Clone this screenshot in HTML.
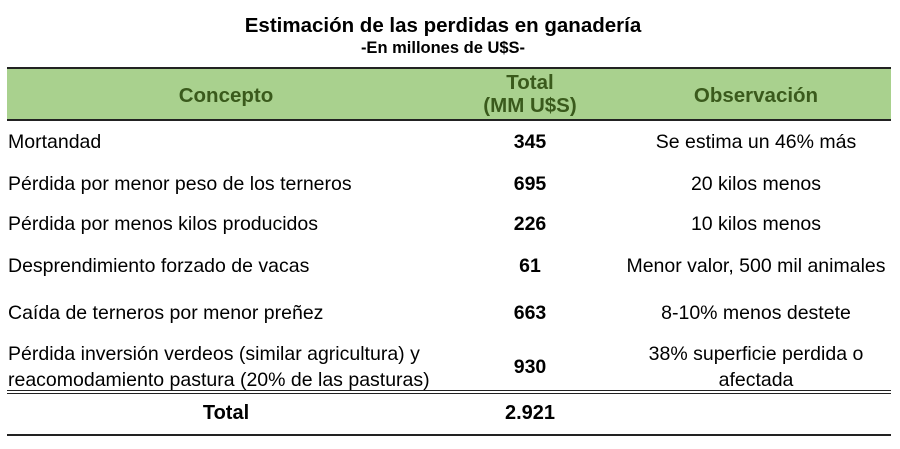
<!DOCTYPE html>
<html><head><meta charset="utf-8"><style>
html,body{margin:0;padding:0;background:#fff;}
body{width:900px;height:449px;position:relative;overflow:hidden;font-family:"Liberation Sans",sans-serif;color:#000;}
.t{position:absolute;white-space:nowrap;font-size:19.5px;line-height:22px;}
.c{width:400px;text-align:center;}
.b{font-weight:bold;}
.g{color:#3a5a1c;font-weight:bold;font-size:20.5px;}
.line{position:absolute;left:7px;width:884px;background:#222;}
</style></head><body>
<div class="t c b" style="left:243px;top:15px;font-size:20.5px;">Estimación de las perdidas en ganadería</div>
<div class="t c b" style="left:243px;top:38px;font-size:16.5px;line-height:20px;">-En millones de U$S-</div>

<div style="position:absolute;left:7px;top:68px;width:884px;height:52px;background:#a9d18e;"></div>
<div class="line" style="top:67px;height:2px;"></div>
<div class="line" style="top:119px;height:2px;"></div>
<div class="t c g" style="left:26px;top:85px;">Concepto</div>
<div class="t c g" style="left:330px;top:72px;">Total</div>
<div class="t c g" style="left:330px;top:95px;">(MM U$S)</div>
<div class="t c g" style="left:556px;top:85px;">Observación</div>

<div class="t" style="left:8px;top:131px;">Mortandad</div>
<div class="t c b" style="left:330px;top:131px;">345</div>
<div class="t c" style="left:556px;top:131px;">Se estima un 46% más</div>

<div class="t" style="left:8px;top:173px;">Pérdida por menor peso de los terneros</div>
<div class="t c b" style="left:330px;top:173px;">695</div>
<div class="t c" style="left:556px;top:173px;">20 kilos menos</div>

<div class="t" style="left:8px;top:213px;">Pérdida por menos kilos producidos</div>
<div class="t c b" style="left:330px;top:213px;">226</div>
<div class="t c" style="left:556px;top:213px;">10 kilos menos</div>

<div class="t" style="left:8px;top:255px;">Desprendimiento forzado de vacas</div>
<div class="t c b" style="left:330px;top:255px;">61</div>
<div class="t c" style="left:556px;top:255px;">Menor valor, 500 mil animales</div>

<div class="t" style="left:8px;top:302px;">Caída de terneros por menor preñez</div>
<div class="t c b" style="left:330px;top:302px;">663</div>
<div class="t c" style="left:556px;top:302px;">8-10% menos destete</div>

<div class="t" style="left:8px;top:343px;">Pérdida inversión verdeos (similar agricultura) y</div>
<div class="t" style="left:8px;top:369px;">reacomodamiento pastura (20% de las pasturas)</div>
<div class="t c b" style="left:330px;top:356px;">930</div>
<div class="t c" style="left:556px;top:343px;">38% superficie perdida o</div>
<div class="t c" style="left:556px;top:369px;">afectada</div>

<div class="line" style="top:390px;height:1px;"></div>
<div class="line" style="top:393px;height:1px;"></div>

<div class="t c b" style="left:26px;top:402px;font-size:20px;">Total</div>
<div class="t c b" style="left:330px;top:402px;font-size:20px;">2.921</div>

<div class="line" style="top:434px;height:2px;"></div>
</body></html>
